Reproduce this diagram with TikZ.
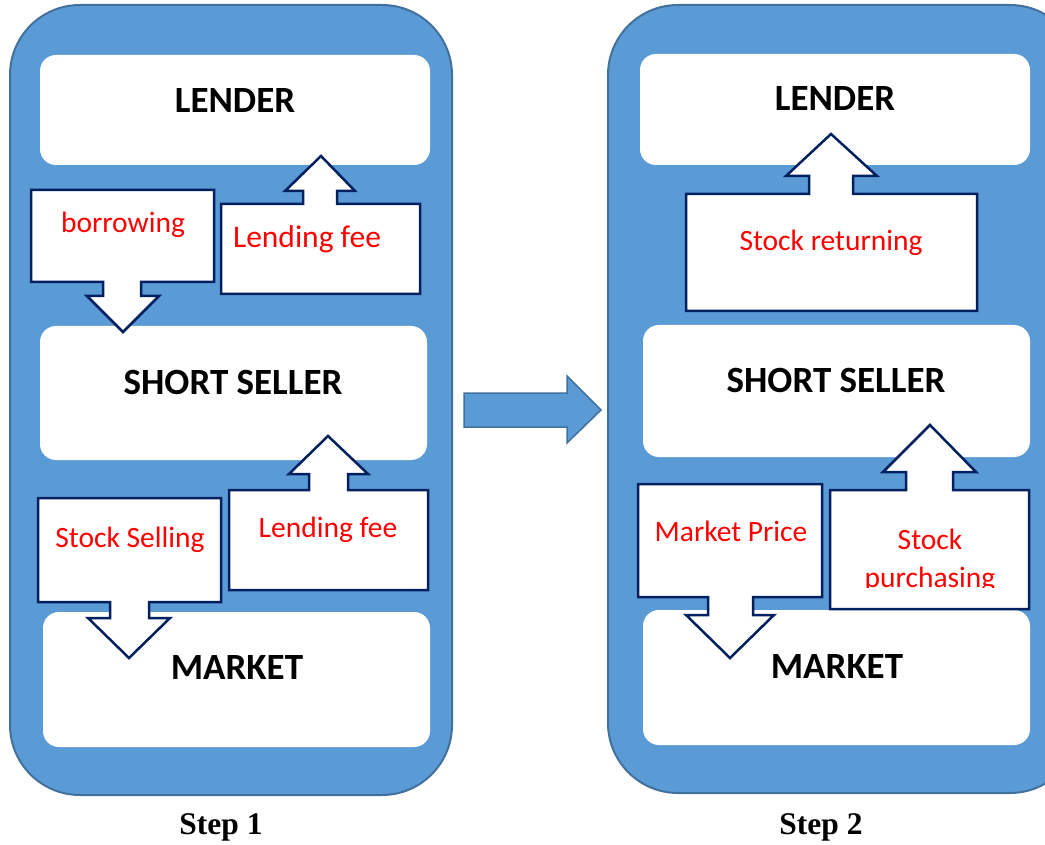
\documentclass[tikz,border=0pt]{standalone}
\usepackage{fontspec}
\setmainfont{Carlito}
\newfontfamily\serifbold{Liberation Serif}
\definecolor{panelfill}{HTML}{5B9BD5}
\definecolor{paneledge}{HTML}{41719C}
\definecolor{calloutedge}{HTML}{002060}
\definecolor{redtext}{HTML}{FF0000}
\begin{document}
\begin{tikzpicture}[x=1pt,y=-1pt,
  panel/.style={fill=panelfill,draw=paneledge,line width=2pt,rounded corners=70pt},
  whitebox/.style={fill=white,draw=none,rounded corners=16pt},
  boxlabel/.style={font=\fontsize{37}{40}\selectfont\bfseries,text=black},
  callout/.style={fill=white,draw=calloutedge,line width=2.5pt,line join=miter},
  redlabel/.style={font=\fontsize{29.5}{34}\selectfont,text=redtext},
  steplabel/.style={font=\serifbold\fontsize{31.5}{34}\selectfont\bfseries,text=black},
  bigarrow/.style={fill=panelfill,draw=paneledge,line width=1.5pt}]
\useasboundingbox (0,0) rectangle (1045,845);
\begin{scope}
\clip (0,0) rectangle (1045,845);
% panels
\draw[panel] (10,5) rectangle (452,795);
\draw[panel] (608,5) rectangle (1080,793);
% white boxes left
\fill[whitebox] (40,55) rectangle (430,165);
\fill[whitebox] (40,326) rectangle (427,460);
\fill[whitebox] (43,612) rectangle (430,747);
% white boxes right
\fill[whitebox] (640,54) rectangle (1030,165);
\fill[whitebox] (643,325) rectangle (1030,457);
\fill[whitebox] (643,610) rectangle (1030,745);
\end{scope}
\node[boxlabel] (lender1) at (235,101) {LENDER};
\node[boxlabel] (seller1) at (233,382) {SHORT SELLER};
\node[boxlabel] (market1) at (237,668) {MARKET};
\node[boxlabel] (lender2) at (835,99) {LENDER};
\node[boxlabel] (seller2) at (836,380) {SHORT SELLER};
\node[boxlabel] (market2) at (837,667) {MARKET};
% callouts left
\draw[callout] (31,190) -- (214,190) -- (214,282) -- (141,282) -- (141,296) -- (159,296)
  -- (123,332) -- (87,296) -- (103,296) -- (103,282) -- (31,282) -- cycle;
\node[redlabel] (borrow) at (123,225) {borrowing};
\draw[callout] (221,204) -- (303,204) -- (303,191) -- (285,191) -- (321,156) -- (355,191)
  -- (337,191) -- (337,204) -- (420,204) -- (420,294) -- (221,294) -- cycle;
\node[redlabel,font=\fontsize{31.5}{36}\selectfont] (fee1) at (307,239) {Lending fee};
\draw[callout] (38,498) -- (221,498) -- (221,602) -- (149,602) -- (149,618) -- (170,618)
  -- (129,658) -- (88,618) -- (110,618) -- (110,602) -- (38,602) -- cycle;
\node[redlabel] (sell) at (130,540) {Stock Selling};
\draw[callout] (229,490) -- (309,490) -- (309,474) -- (289,474) -- (328,436) -- (368,474)
  -- (348,474) -- (348,490) -- (428,490) -- (428,590) -- (229,590) -- cycle;
\node[redlabel] (fee2) at (328,530) {Lending fee};
% callouts right
\draw[callout] (686,194) -- (809,194) -- (809,176) -- (786,176) -- (831,134) -- (877,176)
  -- (853,176) -- (853,194) -- (977,194) -- (977,311) -- (686,311) -- cycle;
\node[redlabel] (ret) at (831,243) {Stock returning};
\draw[callout] (638,484) -- (822,484) -- (822,597) -- (753,597) -- (753,615) -- (774,615)
  -- (730,658) -- (686,615) -- (708,615) -- (708,597) -- (638,597) -- cycle;
\node[redlabel] (price) at (731,531) {Market Price};
\draw[callout] (830,490) -- (906,490) -- (906,472) -- (883,472) -- (930,425) -- (976,472)
  -- (953,472) -- (953,490) -- (1029,490) -- (1029,609) -- (830,609) -- cycle;
\node[redlabel] (purch1) at (930,539) {Stock};
\begin{scope}
\clip (832,555) rectangle (1027,587);
\node[redlabel] (purch2) at (930,580) {purchasing};
\end{scope}
% middle arrow
\draw[bigarrow] (464,393) -- (567,393) -- (567,376) -- (601,410) -- (567,443) -- (567,427) -- (464,427) -- cycle;
% step labels
\node[steplabel] (step1) at (221,827) {Step 1};
\node[steplabel] (step2) at (821,827) {Step 2};
\end{tikzpicture}
\end{document}
